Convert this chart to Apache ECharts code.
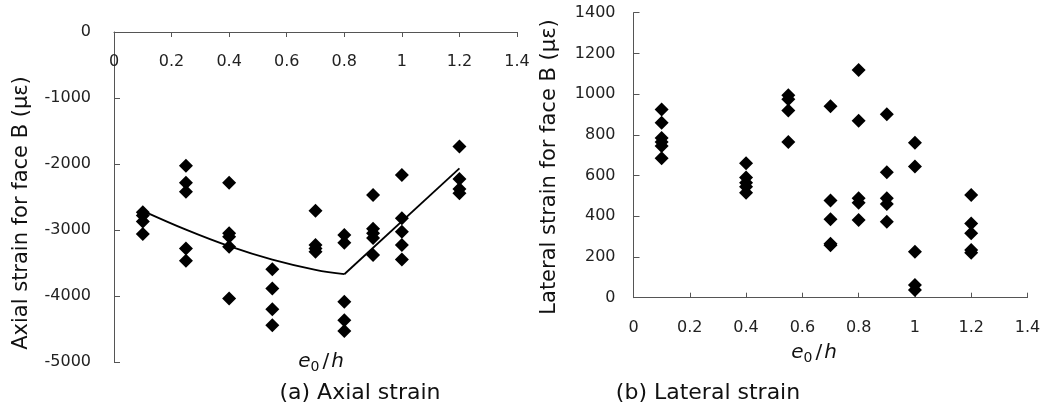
<!DOCTYPE html>
<html>
<head>
<meta charset="utf-8">
<script src="https://cdn.jsdelivr.net/npm/echarts@6/dist/echarts.min.js"></script>
<style>html,body{margin:0;padding:0;background:#fff}#c{width:1057px;height:410px}</style>
</head>
<body>
<div id="c"></div>
<script>
// ---------- data ----------
const xTicks = [0, 0.2, 0.4, 0.6, 0.8, 1, 1.2, 1.4];

// (a) Axial strain for face B (µε), grouped by e0/h
const axialX = [0.1, 0.25, 0.4, 0.55, 0.7, 0.8, 0.9, 1.0, 1.2];
const axialY = [
  [-2730, -2780, -2870, -3060],
  [-2025, -2283, -2420, -3279, -3467],
  [-2283, -3051, -3103, -3254, -4038],
  [-3593, -3886, -4200, -4443],
  [-2708, -3229, -3279, -3330],
  [-3077, -3194, -4089, -4367, -4530],
  [-2470, -2980, -3050, -3120, -3380],
  [-2166, -2823, -3026, -3229, -3446],
  [-1736, -2227, -2379, -2444]
];
// fitted trend line
const fitCurveX = [0.1, 0.25, 0.4, 0.55, 0.7, 0.8];
const fitCurveY = [-2710, -2995, -3245, -3450, -3605, -3670];
const fitLineX = [0.8, 1.2];
const fitLineY = [-3670, -2065];

// (b) Lateral strain for face B (µε)
const lateralX = [0.1, 0.4, 0.55, 0.7, 0.8, 0.9, 1.0, 1.2];
const lateralY = [
  [925, 860, 785, 765, 745, 685],
  [660, 590, 565, 545, 515],
  [995, 975, 920, 765],
  [940, 478, 385, 265, 258],
  [1119, 869, 488, 467, 382],
  [901, 616, 488, 460, 373],
  [761, 644, 226, 62, 38],
  [505, 365, 316, 234, 221]
];

// ---------- build ----------
function pairs(xs, ys) {
  const out = [];
  xs.forEach((x, i) => ys[i].forEach(v => out.push([x, v])));
  return out;
}
function zip(xs, ys) { return xs.map((x, i) => [x, ys[i]]); }

const FONT = 'DejaVu Sans';
const axisColor = '#555';
const labelColor = '#222';
const tickFmt = v => String(Math.round(v * 10) / 10);
const intFmt = v => String(Math.round(v));

const eh = (x, y) => ({
  type: 'text', x: x, y: y,
  style: {
    text: '{i|e}{s|0}{n|/}{i|h}',
    align: 'center', verticalAlign: 'middle',
    rich: {
      i: { fontFamily: FONT, fontStyle: 'italic', fontSize: 20, fill: '#111' },
      s: { fontFamily: FONT, fontSize: 14, fill: '#111', padding: [10, 0, 0, 0] },
      n: { fontFamily: FONT, fontSize: 20, fill: '#111', padding: [0, 2, 0, 3] }
    }
  }
});

const option = {
  animation: false,
  backgroundColor: '#fff',
  grid: [
    { left: 114, top: 32, width: 403, height: 330 },
    { left: 633.5, top: 12.7, width: 394, height: 285 }
  ],
  xAxis: [
    {
      gridIndex: 0, type: 'value', position: 'top', min: 0, max: 1.4, interval: 0.2,
      axisLine: { onZero: false, lineStyle: { color: axisColor, width: 1 } },
      axisTick: { show: true, inside: true, length: 5, lineStyle: { color: axisColor } },
      axisLabel: { inside: true, margin: 22, color: labelColor, fontFamily: FONT, fontSize: 16, formatter: tickFmt },
      splitLine: { show: false }
    },
    {
      gridIndex: 1, type: 'value', min: 0, max: 1.4, interval: 0.2,
      axisLine: { onZero: false, lineStyle: { color: axisColor, width: 1 } },
      axisTick: { show: true, inside: true, length: 5, lineStyle: { color: axisColor } },
      axisLabel: { margin: 22, color: labelColor, fontFamily: FONT, fontSize: 16, formatter: tickFmt },
      splitLine: { show: false }
    }
  ],
  yAxis: [
    {
      gridIndex: 0, type: 'value', min: -5000, max: 0, interval: 1000,
      axisLine: { show: true, onZero: false, lineStyle: { color: axisColor, width: 1 } },
      axisTick: { show: true, inside: true, length: 6, lineStyle: { color: axisColor } },
      axisLabel: { margin: 23, color: labelColor, fontFamily: FONT, fontSize: 16, formatter: intFmt },
      splitLine: { show: false }
    },
    {
      gridIndex: 1, type: 'value', min: 0, max: 1400, interval: 200,
      axisLine: { show: true, onZero: false, lineStyle: { color: axisColor, width: 1 } },
      axisTick: { show: true, inside: true, length: 6, lineStyle: { color: axisColor } },
      axisLabel: { margin: 18, color: labelColor, fontFamily: FONT, fontSize: 16, formatter: intFmt },
      splitLine: { show: false }
    }
  ],
  series: [
    {
      type: 'line', xAxisIndex: 0, yAxisIndex: 0, data: zip(fitCurveX, fitCurveY),
      smooth: 0.4, showSymbol: false, lineStyle: { color: '#000', width: 1.8 }, z: 2
    },
    {
      type: 'line', xAxisIndex: 0, yAxisIndex: 0, data: zip(fitLineX, fitLineY),
      showSymbol: false, lineStyle: { color: '#000', width: 1.8 }, z: 2
    },
    {
      type: 'scatter', xAxisIndex: 0, yAxisIndex: 0, data: pairs(axialX, axialY),
      symbol: 'diamond', symbolSize: 14, itemStyle: { color: '#000', opacity: 1 }, z: 3
    },
    {
      type: 'scatter', xAxisIndex: 1, yAxisIndex: 1, data: pairs(lateralX, lateralY),
      symbol: 'diamond', symbolSize: 14, itemStyle: { color: '#000', opacity: 1 }, z: 3
    }
  ],
  graphic: [
    {
      type: 'text', x: 22, y: 213, rotation: Math.PI / 2,
      style: { text: 'Axial strain for face B (µε)', fontFamily: FONT, fontSize: 21, fill: '#111', align: 'center', verticalAlign: 'middle' }
    },
    {
      type: 'text', x: 550, y: 167, rotation: Math.PI / 2,
      style: { text: 'Lateral strain for face B (µε)', fontFamily: FONT, fontSize: 21, fill: '#111', align: 'center', verticalAlign: 'middle' }
    },
    eh(321, 362),
    eh(814, 353),
    {
      type: 'text', x: 360, y: 393,
      style: { text: '(a) Axial strain', fontFamily: FONT, fontSize: 22, fill: '#111', align: 'center', verticalAlign: 'middle' }
    },
    {
      type: 'text', x: 708, y: 393,
      style: { text: '(b) Lateral strain', fontFamily: FONT, fontSize: 22, fill: '#111', align: 'center', verticalAlign: 'middle' }
    }
  ]
};

const chart = echarts.init(document.getElementById('c'), null, { renderer: 'canvas' });
chart.setOption(option);
</script>
</body>
</html>
